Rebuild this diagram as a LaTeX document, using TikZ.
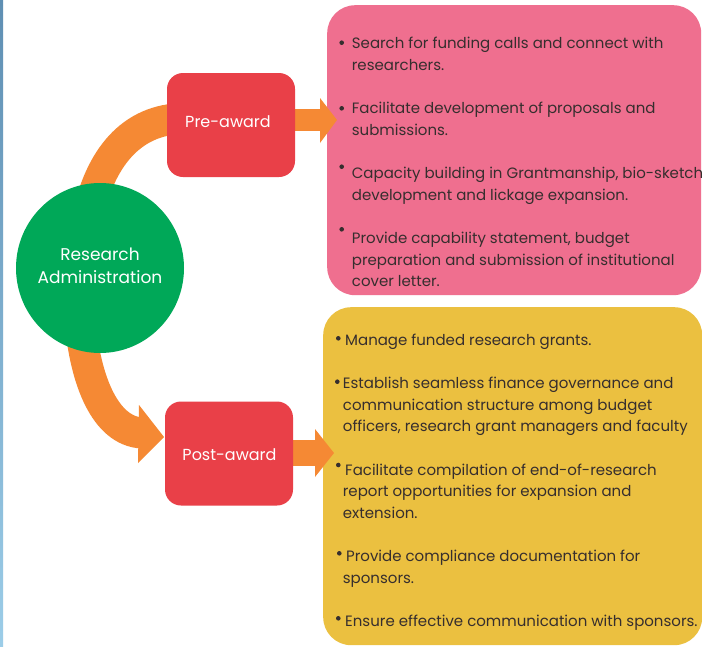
\documentclass[tikz,border=0pt]{standalone}
\usepackage{fontspec}
\setmainfont{Poppins}
\usetikzlibrary{shapes.geometric}
\definecolor{pinkc}{HTML}{EF6F8F}
\definecolor{yellowc}{HTML}{EBC040}
\definecolor{redc}{HTML}{E94048}
\definecolor{greenc}{HTML}{00A858}
\definecolor{orangec}{HTML}{F58934}
\definecolor{textc}{HTML}{362E2E}
\definecolor{stripa}{HTML}{5F8FB3}
\definecolor{stripb}{HTML}{9CCDE8}
\begin{document}
\begin{tikzpicture}[x=1pt,y=-1pt,
  listbox/.style={fill=#1, rounded corners=28pt, anchor=north west, inner sep=0pt, draw=none},
  stagebox/.style={fill=redc, rounded corners=16pt, minimum width=128pt, minimum height=104pt, inner sep=0pt},
  hub/.style={ellipse, fill=greenc, minimum width=168pt, minimum height=170pt, inner sep=0pt},
  hubtxt/.style={anchor=base, inner sep=0pt, text=white, font=\fontsize{17}{20}\selectfont},
  stagetxt/.style={anchor=base, inner sep=0pt, text=white, font=\fontsize{16}{20}\selectfont},
  bodytxt/.style={anchor=base west, inner sep=0pt, text=textc, font=\fontsize{15}{18}\selectfont},
  dot/.style={circle, fill=textc, inner sep=0pt, minimum size=4.6pt},
  band/.style={draw=orangec, line width=31pt},
  head/.style={fill=orangec}
]
\useasboundingbox (0,0) rectangle (702,646);
\clip (0,0) rectangle (702,646);
\fill[white] (0,0) rectangle (702,646);
\shade[top color=stripa, bottom color=stripb] (0,0) rectangle (3,646);

% list boxes
\node[listbox=pinkc, minimum width=374pt, minimum height=290pt] (prelist) at (327,5) {};
\node[listbox=yellowc, minimum width=379pt, minimum height=338pt] (postlist) at (323,307) {};

% stage box positions
\coordinate (prec) at (231,125);
\coordinate (postc) at (229,453.5);

% curved band to Pre-award
\coordinate (a1s) at (88,215);
\draw[band] (a1s) .. controls (100,160) and (130,118.5) .. (185,118.5);

% curved band to Post-award
\coordinate (a2s) at (80,320);
\coordinate (a2e) at (142,433);
\draw[band] (a2s) .. controls (85,380) and (105,431) .. (a2e);
\fill[head] (139,405) -- (164,437) -- (138,463) -- cycle;

% right arrows
\fill[head] (285,109) rectangle (321,131);
\fill[head] (320,98) -- (337,120) -- (320,143) -- cycle;
\fill[head] (285,440) rectangle (316,466);
\fill[head] (315,429) -- (334,453) -- (315,477) -- cycle;

% hub
\node[hub] (hub) at (100,268) {};
\node[hubtxt] (hubt1) at (100,260) {Research};
\node[hubtxt] (hubt2) at (100,283.3) {Administration};

% stage boxes
\node[stagebox] (pre) at (prec) {};
\node[stagebox] (post) at (postc) {};
\node[stagetxt] (pret) at (228,127.3) {Pre-award};
\node[stagetxt] (postt) at (229.5,460.7) {Post-award};

% Pre-award list
\node[dot] (pb1) at (341.7,42.7) {};
\node[bodytxt] (p1a) at (351.7,48.3) {Search for funding calls and connect with};
\node[bodytxt] (p1b) at (351.7,70) {researchers.};
\node[dot] (pb2) at (341.7,108.3) {};
\node[bodytxt] (p2a) at (351.7,113.3) {Facilitate development of proposals and};
\node[bodytxt] (p2b) at (351.7,135) {submissions.};
\node[dot] (pb3) at (341.7,166.7) {};
\node[bodytxt] (p3a) at (351.7,178.3) {Capacity building in Grantmanship, bio-sketch};
\node[bodytxt] (p3b) at (351.7,200) {development and lickage expansion.};
\node[dot] (pb4) at (341.7,229.3) {};
\node[bodytxt] (p4a) at (351.7,243.3) {Provide capability statement, budget};
\node[bodytxt] (p4b) at (351.7,265) {preparation and submission of institutional};
\node[bodytxt] (p4c) at (351.7,286.7) {cover letter.};

% Post-award list
\node[dot] (qb1) at (338.3,338.3) {};
\node[bodytxt] (q1a) at (345,345) {Manage funded research grants.};
\node[dot] (qb2) at (337.3,381.7) {};
\node[bodytxt] (q2a) at (342.7,388.3) {Establish seamless finance governance and};
\node[bodytxt] (q2b) at (342.7,410) {communication structure among budget};
\node[bodytxt] (q2c) at (342.7,431.7) {officers, research grant managers and faculty};
\node[dot] (qb3) at (338.3,465) {};
\node[bodytxt] (q3a) at (345,475) {Facilitate compilation of end-of-research};
\node[bodytxt] (q3b) at (342.7,496.7) {report opportunities for expansion and};
\node[bodytxt] (q3c) at (342.7,518.3) {extension.};
\node[dot] (qb4) at (339.3,553.3) {};
\node[bodytxt] (q4a) at (346,561.7) {Provide compliance documentation for};
\node[bodytxt] (q4b) at (342.7,583.3) {sponsors.};
\node[dot] (qb5) at (338.3,618.3) {};
\node[bodytxt] (q5a) at (345,626.7) {Ensure effective communication with sponsors.};
\end{tikzpicture}
\end{document}
